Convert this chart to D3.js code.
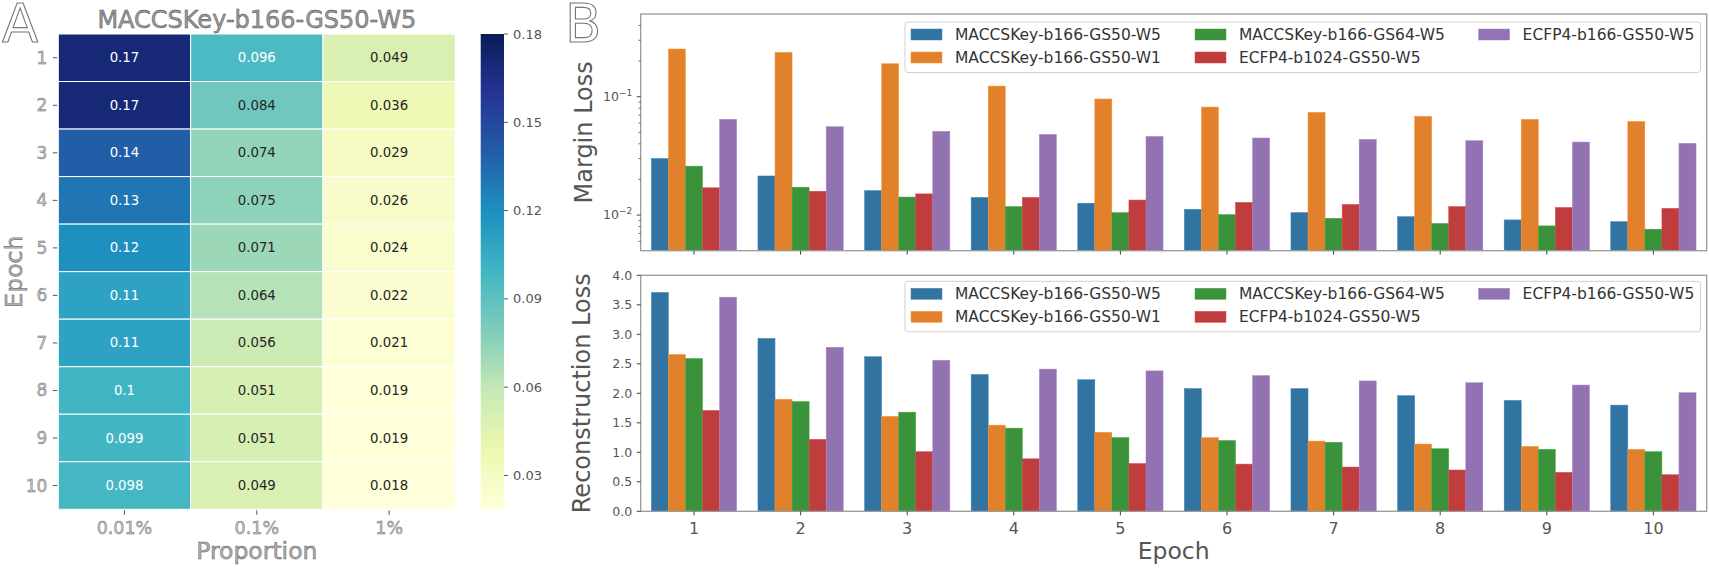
<!DOCTYPE html>
<html><head><meta charset="utf-8">
<script src="https://cdn.jsdelivr.net/npm/d3@7"></script>
<style>
body{margin:0;background:#fff}
svg{display:block;font-family:"DejaVu Sans",sans-serif}
</style>
</head><body>
<svg id="c" width="1709" height="568"></svg>
<script>
// ---------- data ----------
const epochs = [1,2,3,4,5,6,7,8,9,10];
const proportions = ["0.01%","0.1%","1%"];
const heatP001 = [0.17,0.17,0.14,0.13,0.12,0.11,0.11,0.1,0.099,0.098];
const heatP01  = [0.096,0.084,0.074,0.075,0.071,0.064,0.056,0.051,0.051,0.049];
const heatP1   = [0.049,0.036,0.029,0.026,0.024,0.022,0.021,0.019,0.019,0.018];
const heatTitle = "MACCSKey-b166-GS50-W5";
const cbarDomain = [0.0185, 0.18];
const cbarTicks = [0.03,0.06,0.09,0.12,0.15,0.18];

const seriesNames = ["MACCSKey-b166-GS50-W5","MACCSKey-b166-GS50-W1","MACCSKey-b166-GS64-W5","ECFP4-b1024-GS50-W5","ECFP4-b166-GS50-W5"];
const marginW5   = [0.0301,0.0214,0.0161,0.0141,0.0126,0.0112,0.0105,0.0097,0.0091,0.0088];
const marginW1   = [0.253,0.237,0.190,0.123,0.0957,0.0818,0.0738,0.0683,0.0644,0.0619];
const marginGS64 = [0.0259,0.0172,0.0142,0.0118,0.0105,0.0101,0.0094,0.0085,0.0081,0.0076];
const marginE1024= [0.0170,0.0159,0.0151,0.0141,0.0134,0.0128,0.0123,0.0118,0.0116,0.0114];
const marginE166 = [0.0644,0.0558,0.0510,0.0481,0.0462,0.0448,0.0436,0.0425,0.0414,0.0404];
const reconW5    = [3.71,2.93,2.62,2.32,2.23,2.08,2.08,1.96,1.88,1.80];
const reconW1    = [2.66,1.90,1.61,1.46,1.34,1.25,1.19,1.14,1.10,1.05];
const reconGS64  = [2.59,1.86,1.68,1.41,1.25,1.20,1.17,1.06,1.05,1.01];
const reconE1024 = [1.71,1.22,1.01,0.89,0.81,0.80,0.75,0.70,0.66,0.62];
const reconE166  = [3.63,2.78,2.56,2.41,2.38,2.30,2.21,2.18,2.14,2.01];
const marginTicks = [0.01, 0.1];
const marginExps = ["\u22122","\u22121"];
const reconTicks = [0,0.5,1,1.5,2,2.5,3,3.5,4];

// ---------- style ----------
const seriesColors = ["#3274a1","#e1812c","#3a923a","#c03d3e","#9372b2"];
const ylgnbu = ["#ffffd9","#edf8b1","#c7e9b4","#7fcdbb","#41b6c4","#1d91c0","#225ea8","#253494","#081d58"];
const tickCol = "#555", spineCol = "#999", labCol = "#555";

const svg = d3.select("#c");

// ---------- Panel A : heatmap ----------
const hm = {l:58.3, r:455.3, t:34, b:509.3};
const xH = d3.scaleBand().domain(proportions).range([hm.l, hm.r]);
const yH = d3.scaleBand().domain(epochs).range([hm.t, hm.b]);
const color = d3.scaleSequential(d3.piecewise(d3.interpolateRgb, ylgnbu)).domain(cbarDomain).clamp(true);
const cols = [heatP001, heatP01, heatP1];
const cells = [];
proportions.forEach((p,j)=>epochs.forEach((e,i)=>cells.push({p, e, v: cols[j][i]})));

function lum(c){
  const rgb = d3.rgb(c);
  const f = x => { x/=255; return x<=0.03928 ? x/12.92 : Math.pow((x+0.055)/1.055, 2.4); };
  return 0.2126*f(rgb.r)+0.7152*f(rgb.g)+0.0722*f(rgb.b);
}

const outlined = sel => sel.attr("fill","#c8c8c8").attr("stroke","#666").attr("stroke-width",0.45);

const gH = svg.append("g");
gH.selectAll("rect.cell").data(cells).join("rect")
  .attr("x", d=>xH(d.p)).attr("y", d=>yH(d.e))
  .attr("width", xH.bandwidth()).attr("height", yH.bandwidth())
  .attr("fill", d=>color(d.v)).attr("stroke","#fff").attr("stroke-width",1);
gH.selectAll("text.ann").data(cells).join("text")
  .attr("x", d=>xH(d.p)+xH.bandwidth()/2).attr("y", d=>yH(d.e)+yH.bandwidth()/2)
  .attr("text-anchor","middle").attr("dominant-baseline","central")
  .attr("font-size",13.3)
  .attr("fill", d=> lum(color(d.v)) > 0.408 ? "#262626" : "#ffffff")
  .text(d=>String(d.v));

// heatmap y ticks
gH.selectAll("line.yt").data(epochs).join("line")
  .attr("x1", hm.l-5.5).attr("x2", hm.l-1).attr("y1", d=>yH(d)+yH.bandwidth()/2).attr("y2", d=>yH(d)+yH.bandwidth()/2)
  .attr("stroke", tickCol).attr("stroke-width",1);
gH.selectAll("text.yt").data(epochs).join("text")
  .attr("x", hm.l-11).attr("y", d=>yH(d)+yH.bandwidth()/2)
  .attr("text-anchor","end").attr("dominant-baseline","central")
  .attr("font-size",17).call(outlined)
  .text(d=>d);
// heatmap x ticks
gH.selectAll("line.xt").data(proportions).join("line")
  .attr("x1", d=>xH(d)+xH.bandwidth()/2).attr("x2", d=>xH(d)+xH.bandwidth()/2)
  .attr("y1", hm.b+1).attr("y2", hm.b+5.5).attr("stroke", tickCol);
gH.selectAll("text.xt").data(proportions).join("text")
  .attr("x", d=>xH(d)+xH.bandwidth()/2).attr("y", hm.b+18.5)
  .attr("text-anchor","middle").attr("dominant-baseline","central")
  .attr("font-size",17.5).call(outlined)
  .text(d=>d);
// labels
gH.append("text").attr("x",(hm.l+hm.r)/2).attr("y",28).attr("text-anchor","middle")
  .attr("font-size",24).attr("fill","#9a9a9a").attr("stroke","#4a4a4a").attr("stroke-width",0.45).text(heatTitle);
gH.append("text").attr("x",(hm.l+hm.r)/2).attr("y",559).attr("text-anchor","middle")
  .attr("font-size",23.5).attr("fill","#b0b0b0").attr("stroke","#555").attr("stroke-width",0.45).text("Proportion");
gH.append("text").attr("transform",`translate(14,${(hm.t+hm.b)/2}) rotate(-90)`)
  .attr("text-anchor","middle").attr("dominant-baseline","central")
  .attr("font-size",23.5).attr("fill","#b0b0b0").attr("stroke","#555").attr("stroke-width",0.45).text("Epoch");
// panel letters
svg.append("text").attr("x",2).attr("y",42).attr("font-size",53).attr("fill","#fff")
  .attr("stroke","#777").attr("stroke-width",1.1).text("A");
svg.append("text").attr("x",565).attr("y",42).attr("font-size",53).attr("fill","#fff")
  .attr("stroke","#777").attr("stroke-width",1.1).text("B");

// colorbar
const cb = {l:480.7, r:504, t:hm.t, b:hm.b};
const yC = d3.scaleLinear().domain(cbarDomain).range([cb.b, cb.t]);
const grad = svg.append("defs").append("linearGradient").attr("id","cbg")
  .attr("x1",0).attr("y1",1).attr("x2",0).attr("y2",0);
d3.range(0,1.0001,0.02).forEach(t=>{
  grad.append("stop").attr("offset",t).attr("stop-color", color(cbarDomain[0]+t*(cbarDomain[1]-cbarDomain[0])));
});
svg.append("rect").attr("x",cb.l).attr("y",cb.t).attr("width",cb.r-cb.l).attr("height",cb.b-cb.t).attr("fill","url(#cbg)");
const gC = svg.append("g");
gC.selectAll("line").data(cbarTicks).join("line")
  .attr("x1",cb.r).attr("x2",cb.r+4).attr("y1",d=>yC(d)).attr("y2",d=>yC(d)).attr("stroke",tickCol);
gC.selectAll("text").data(cbarTicks).join("text")
  .attr("x",cb.r+9).attr("y",d=>yC(d)).attr("dominant-baseline","central")
  .attr("font-size",13).attr("fill",labCol).text(d=>d3.format(".2f")(d));

// ---------- Panel B : bar charts ----------
const B = {l:640.7, r:1706.7};
const mP = {t:14, b:250.7};
const rP = {t:275.3, b:511.3};
const xB = d3.scaleBand().domain(epochs).range([B.l, B.r]).paddingInner(0.2).paddingOuter(0.1);
const xS = d3.scaleBand().domain(seriesNames).range([0, xB.bandwidth()]);
const yM = d3.scaleLog().domain([0.005, 0.5]).range([mP.b, mP.t]);
const yR = d3.scaleLinear().domain([0, 4]).range([rP.b, rP.t]);

const marginSeries = [marginW5, marginW1, marginGS64, marginE1024, marginE166];
const reconSeries  = [reconW5, reconW1, reconGS64, reconE1024, reconE166];

function barData(series){
  const out = [];
  series.forEach((arr,si)=>arr.forEach((v,i)=>out.push({s:seriesNames[si], c:seriesColors[si], e:epochs[i], v})));
  return out;
}

function drawBars(g, data, y, base){
  g.selectAll("rect.bar").data(data).join("rect")
    .attr("x", d=>xB(d.e)+xS(d.s)).attr("width", xS.bandwidth())
    .attr("y", d=>y(d.v)).attr("height", d=>base - y(d.v))
    .attr("fill", d=>d.c).attr("stroke", d=>d3.color(d.c).brighter(0.4)).attr("stroke-width",0.5);
}

function drawFrame(g, P){
  g.append("rect").attr("x",B.l).attr("y",P.t).attr("width",B.r-B.l).attr("height",P.b-P.t)
    .attr("fill","none").attr("stroke",spineCol).attr("stroke-width",1.3);
}

function xTicks(g, P, withLabels){
  g.selectAll("line.xt").data(epochs).join("line")
    .attr("x1", d=>xB(d)+xB.bandwidth()/2).attr("x2", d=>xB(d)+xB.bandwidth()/2)
    .attr("y1", P.b).attr("y2", P.b+4).attr("stroke","#444");
  if (withLabels){
    g.selectAll("text.xt").data(epochs).join("text")
      .attr("x", d=>xB(d)+xB.bandwidth()/2).attr("y", P.b+22.5)
      .attr("text-anchor","middle").attr("font-size",16).attr("fill",labCol).text(d=>d);
  }
}

function legend(g, top){
  const box = {l:905, r:1700.5, t:top, h:50.5};
  g.append("rect").attr("x",box.l).attr("y",box.t).attr("width",box.r-box.l).attr("height",box.h)
    .attr("rx",3).attr("fill","#fff").attr("fill-opacity",0.85).attr("stroke","#d0d0d0").attr("stroke-width",1);
  const colX = [911, 1195, 1478.6];
  seriesNames.forEach((n,i)=>{
    const c = Math.floor(i/2), r = i%2;
    const cy = box.t + 12.5 + r*23;
    g.append("rect").attr("x",colX[c]).attr("y",cy-5.5).attr("width",31).attr("height",11)
      .attr("fill",seriesColors[i]).attr("stroke", d3.color(seriesColors[i]).brighter(0.4)).attr("stroke-width",0.5);
    g.append("text").attr("x",colX[c]+44).attr("y",cy).attr("dominant-baseline","central")
      .attr("font-size",15.5).attr("fill","#333").text(n);
  });
}

// Margin loss
const gM = svg.append("g");
drawBars(gM, barData(marginSeries), yM, mP.b);
drawFrame(gM, mP);
xTicks(gM, mP, false);
// log ticks
const minor = yM.ticks().filter(v => !marginTicks.some(m => Math.abs(m-v)<1e-12) && v>0.005*1.0001 && v<0.5*0.9999);
gM.selectAll("line.mn").data(minor).join("line")
  .attr("x1",B.l-2.2).attr("x2",B.l).attr("y1",d=>yM(d)).attr("y2",d=>yM(d)).attr("stroke","#444").attr("stroke-width",0.8);
gM.selectAll("line.mj").data(marginTicks).join("line")
  .attr("x1",B.l-4).attr("x2",B.l).attr("y1",d=>yM(d)).attr("y2",d=>yM(d)).attr("stroke","#444");
const mt = gM.selectAll("text.mj").data(marginTicks).join("text")
  .attr("x",B.l-8.5).attr("y",d=>yM(d)+4.3).attr("text-anchor","end").attr("fill",labCol).attr("font-size",12.5);
mt.append("tspan").text("10");
mt.append("tspan").attr("dy",-5).attr("font-size",9).text((d,i)=>marginExps[i]);
gM.append("text").attr("transform",`translate(584,${(mP.t+mP.b)/2}) rotate(-90)`)
  .attr("text-anchor","middle").attr("dominant-baseline","central")
  .attr("font-size",24).attr("fill",labCol).text("Margin Loss");
legend(gM, 22);

// Reconstruction loss
const gR = svg.append("g");
drawBars(gR, barData(reconSeries), yR, rP.b);
drawFrame(gR, rP);
xTicks(gR, rP, true);
gR.selectAll("line.yt").data(reconTicks).join("line")
  .attr("x1",B.l-4).attr("x2",B.l).attr("y1",d=>yR(d)).attr("y2",d=>yR(d)).attr("stroke","#444");
gR.selectAll("text.yt").data(reconTicks).join("text")
  .attr("x",B.l-8.5).attr("y",d=>yR(d)).attr("text-anchor","end").attr("dominant-baseline","central")
  .attr("font-size",12.5).attr("fill",labCol).text(d=>d3.format(".1f")(d));
gR.append("text").attr("transform",`translate(581.7,${(rP.t+rP.b)/2}) rotate(-90)`)
  .attr("text-anchor","middle").attr("dominant-baseline","central")
  .attr("font-size",24).attr("fill",labCol).text("Reconstruction Loss");
legend(gR, 281.3);
svg.append("text").attr("x",(B.l+B.r)/2).attr("y",559).attr("text-anchor","middle")
  .attr("font-size",23.5).attr("fill",labCol).text("Epoch");
</script>
</body></html>
